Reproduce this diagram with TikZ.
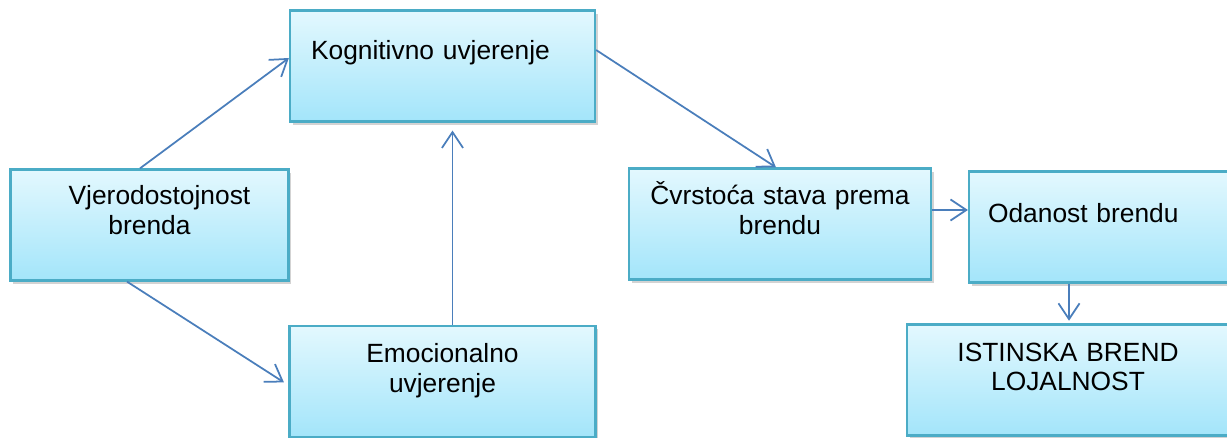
\documentclass[tikz,border=0pt]{standalone}
\usepackage{fontspec}
\setmainfont{Liberation Sans}
\usetikzlibrary{positioning}
\usetikzlibrary{arrows.meta}
\usetikzlibrary{shadows}

\definecolor{boxline}{RGB}{75,172,198}
\definecolor{boxtop}{RGB}{227,248,254}
\definecolor{boxbottom}{RGB}{163,229,250}
\definecolor{arrowblue}{RGB}{74,126,187}

\begin{document}
\begin{tikzpicture}[
        x = 0.02cm, y = -0.02cm,
        box/.style = {
            draw = boxline,
            line width = 1.3pt,
            top color = boxtop,
            bottom color = boxbottom,
            drop shadow = {opacity=0.35, shadow xshift=1.5pt, shadow yshift=-2pt},
            minimum width = #1,
            minimum height = 2.22cm,
            inner sep = 0pt,
            align = center,
            font = \fontsize{15pt}{17pt}\selectfont
        },
        box/.default = 6.04cm,
        lift/.style = {text height = 0pt, text depth = #1},
        link/.style = {
            draw = arrowblue,
            line width = 1pt,
            -{Straight Barb[length=9pt, width=12pt]}
        },
        node distance = {4.04cm}
    ]
    \useasboundingbox (0,0) rectangle (1227,438);
    \clip (0,0) rectangle (1227,438);

    \node[box=6.1cm, text width=5.26cm, align=left, lift=0.24cm] (kog) at (442.5,66) {Kognitivno uvjerenje};
    \node[box=5.56cm, text width=5.2cm, lift=0.8cm] (vjer) at (149.5,225) {\hspace*{0.4cm}Vjerodostojnost\\brenda};
    \node[box=6.12cm, text width=5.7cm, lift=0.76cm, below=of kog] (emo) {Emocionalno\\uvjerenje};
    \node[box, text width=5.7cm, lift=0.76cm] (cvr) at (780,224) {Čvrstoća stava prema\\brendu};
    \node[box, text width=5.28cm, align=left, lift=0.16cm] (oda) at (1120,227) {Odanost brendu};
    \node[box=6.44cm, text width=6cm, lift=0.76cm] (ist) at (1068,380) {ISTINSKA BREND\\LOJALNOST};

    \draw[link] ([xshift=-0.19cm]vjer.north) -- ([yshift=0.16cm]kog.west);
    \draw[link, shorten >=3pt] ([xshift=-0.45cm]vjer.south) -- ([yshift=-0.08cm]emo.west);
    \draw[link, shorten >=4.5pt] ([xshift=0.2cm]emo.north) -- ([xshift=0.2cm]emo.north |- kog.south);

    \draw[link] ([yshift=0.32cm]kog.east) -- ([xshift=-0.08cm]cvr.north);
    \draw[link] ([yshift=0.28cm]cvr.east) -- ([yshift=0.34cm]oda.west);
    \draw[link, shorten >=1.5pt] ([xshift=-1.02cm]oda.south) -- ([xshift=-1.02cm]oda.south |- ist.north);

\end{tikzpicture}
\end{document}
